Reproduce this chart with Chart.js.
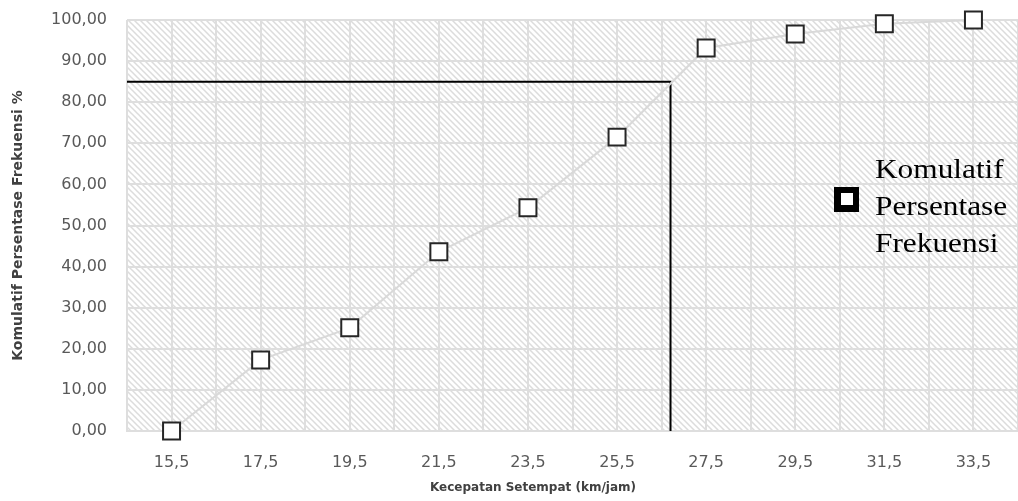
<!DOCTYPE html>
<html>
<head>
<meta charset="utf-8">
<script src="https://cdn.jsdelivr.net/npm/chart.js@4.4.1/dist/chart.umd.min.js"></script>
<style>
  html, body { margin: 0; padding: 0; background: #fff; overflow: hidden; }
  #wrap { width: 1018px; height: 501px; }
  canvas { display: block; }
</style>
</head>
<body>
<div id="wrap"><canvas id="kumulatif"></canvas></div>
<script>
// kecepatan (km/jam) dan komulatif persentase frekuensi
var kecepatan = [15.5, 17.5, 19.5, 21.5, 23.5, 25.5, 27.5, 29.5, 31.5, 33.5];
var komulatif = [0, 17.3, 25.1, 43.6, 54.3, 71.5, 93.2, 96.6, 99.1, 100];

// garis persentil 85
var garisX = [14.5, 26.7, 26.7];
var garisY = [85, 85, 0];

var namaSeri = 'Komulatif Persentase Frekuensi';
var judulX = 'Kecepatan Setempat (km/jam)';
var judulY = 'Komulatif Persentase Frekuensi %';

function koma(v, d) {
    return Number(v).toFixed(d).replace('.', ',');
}

// pola arsir latar
function buatArsir() {
    var c = document.createElement('canvas');
    c.width = 6; c.height = 6;
    var g = c.getContext('2d');
    g.fillStyle = '#ffffff';
    g.fillRect(0, 0, 6, 6);
    g.strokeStyle = '#dcdcdc';
    g.lineWidth = 1.5;
    g.beginPath();
    g.moveTo(-1, -1); g.lineTo(7, 7);
    g.moveTo(5, -1); g.lineTo(7, 1);
    g.moveTo(-1, 5); g.lineTo(1, 7);
    g.stroke();
    return c;
}

var latarArsir = {
    id: 'latarArsir',
    beforeDraw: function (chart) {
        var a = chart.chartArea;
        var ctx = chart.ctx;
        ctx.save();
        ctx.fillStyle = ctx.createPattern(buatArsir(), 'repeat');
        ctx.fillRect(a.left, a.top, a.right - a.left, a.bottom - a.top);
        ctx.restore();
    }
};

var legendaKanan = {
    id: 'legendaKanan',
    afterDraw: function (chart) {
        var ctx = chart.ctx;
        ctx.save();
        // judul sumbu x (agak ke kiri seperti aslinya)
        ctx.fillStyle = '#404040';
        ctx.font = 'bold 12px "DejaVu Sans"';
        ctx.textAlign = 'center';
        ctx.textBaseline = 'middle';
        ctx.fillText(judulX, 533, 488);
        // penanda
        ctx.fillStyle = '#000';
        ctx.fillRect(834, 187, 25, 25);
        ctx.fillStyle = '#fff';
        ctx.fillRect(841, 193, 12, 12);
        // teks
        var baris = namaSeri.split(' ');
        ctx.fillStyle = '#000';
        ctx.font = '27px "Liberation Serif"';
        ctx.textAlign = 'left';
        ctx.textBaseline = 'alphabetic';
        for (var i = 0; i < baris.length; i++) {
            ctx.save();
            ctx.translate(875, 178 + i * 37);
            ctx.scale(1.16, 1);
            ctx.fillText(baris[i], 0, 0);
            ctx.restore();
        }
        ctx.restore();
    }
};

var data = {
    datasets: [{
        label: namaSeri,
        data: kecepatan.map(function (x, i) { return { x: x, y: komulatif[i] }; }),
        borderColor: '#d9d9d9',
        borderWidth: 2,
        pointStyle: 'rect',
        pointRadius: 12,
        pointBorderWidth: 2,
        pointBorderColor: '#262626',
        pointBackgroundColor: '#ffffff',
        clip: false,
        order: 1
    }, {
        label: 'P85',
        data: garisX.map(function (x, i) { return { x: x, y: garisY[i] }; }),
        borderColor: '#000000',
        borderWidth: 2,
        pointRadius: 0,
        order: 2
    }]
};

var opsi = {
    responsive: true,
    maintainAspectRatio: false,
    animation: false,
    layout: { autoPadding: false, padding: { top: 20, right: 0, left: 0, bottom: 0 } },
    plugins: {
        legend: { display: false },
        tooltip: { enabled: false }
    },
    scales: {
        x: {
            type: 'linear',
            min: 14.5,
            max: 34.5,
            afterBuildTicks: function (axis) {
                var t = [];
                for (var v = 14.5; v <= 34.5; v += 1) t.push({ value: v });
                axis.ticks = t;
            },
            afterFit: function (axis) { axis.height = 70; },
            grid: { color: '#dedede', lineWidth: 2, tickLength: 22, tickColor: 'rgba(0,0,0,0)' },
            border: { color: '#dedede', width: 2 },
            ticks: {
                autoSkip: false,
                maxRotation: 0,
                padding: 0,
                color: '#595959',
                font: { family: 'DejaVu Sans', size: 16 },
                callback: function (v) {
                    return kecepatan.indexOf(v) >= 0 ? koma(v, 1) : '';
                }
            },
            title: { display: false }
        },
        y: {
            min: 0,
            max: 100,
            afterFit: function (axis) { axis.width = 127; },
            grid: { color: '#dedede', lineWidth: 2, tickLength: 20, tickColor: 'rgba(0,0,0,0)' },
            border: { display: false },
            ticks: {
                stepSize: 10,
                padding: 0,
                color: '#595959',
                font: { family: 'DejaVu Sans', size: 16 },
                callback: function (v) { return koma(v, 2); }
            },
            title: {
                display: true,
                text: judulY,
                color: '#404040',
                font: { family: 'DejaVu Sans', size: 14, weight: 'bold' },
                padding: { top: 10 }
            }
        }
    }
};

var ctx = document.getElementById('kumulatif').getContext('2d');
window.grafikKumulatif = new Chart(ctx, {
    type: 'line',
    data: data,
    options: opsi,
    plugins: [latarArsir, legendaKanan]
});
</script>
</body>
</html>
